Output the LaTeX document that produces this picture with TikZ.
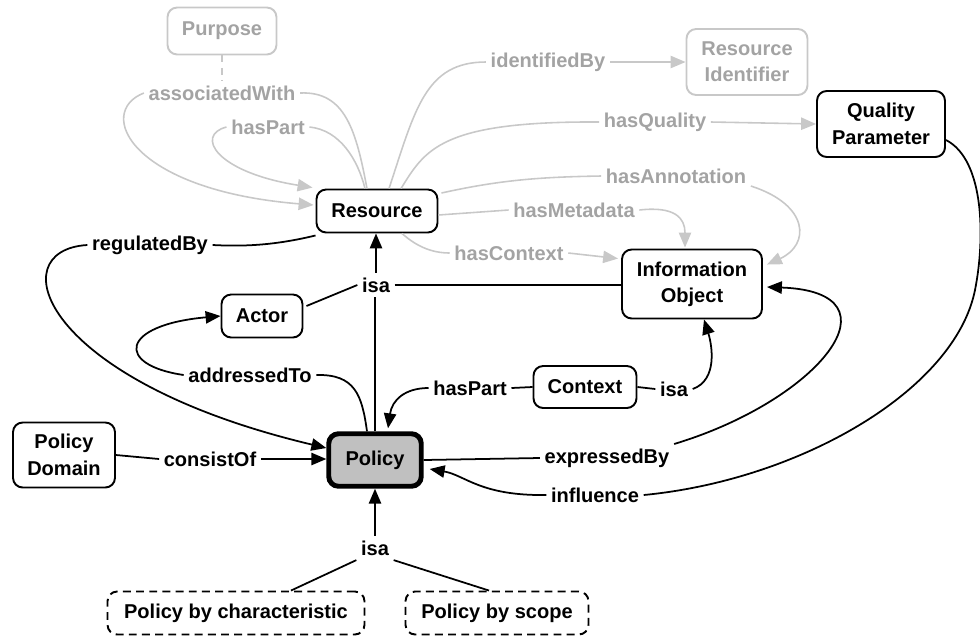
\documentclass[tikz,border=0pt]{standalone}
\usepackage{fontspec}
\setmainfont{Liberation Sans}
\usetikzlibrary{arrows.meta,calc}

\definecolor{fadetext}{HTML}{A3A3A3}
\definecolor{fadeline}{HTML}{C8C8C8}
\definecolor{policyfill}{HTML}{C0C0C0}

\begin{document}
\begin{tikzpicture}[x=0.02cm, y=-0.02cm,
    every node/.style={font=\fontsize{11.4}{15}\selectfont\bfseries},
    concept/.style={draw, rounded corners=5.5pt, line width=1.1pt, align=center, inner sep=0pt},
    faded/.style={concept, draw=fadeline, text=fadetext},
    policybox/.style={concept, line width=2.8pt, fill=policyfill},
    kindbox/.style={concept, dash pattern=on 4.5pt off 3pt},
    relname/.style={inner sep=2.5pt},
    faderel/.style={relname, text=fadetext},
    rellink/.style={line width=1pt},
    relarrow/.style={rellink, -{Triangle[length=8.5pt, width=7pt]}},
    fadelink/.style={line width=0.9pt, draw=fadeline},
    fadearrow/.style={fadelink, -{Triangle[length=8.5pt, width=7pt]}}
]
    \useasboundingbox (0,0) rectangle (980,637);

    % Concepts
    \node[faded, minimum width=2.18cm, minimum height=0.94cm] (purpose) at (222,31) {Purpose};
    \node[faded, minimum width=2.42cm, minimum height=1.32cm] (resid) at (747,62) {Resource\\Identifier};
    \node[concept, minimum width=2.56cm, minimum height=1.32cm] (quality) at (881,124) {Quality\\Parameter};
    \node[concept, minimum width=2.42cm, minimum height=0.86cm] (resource) at (377,211) {Resource};
    \node[concept, minimum width=2.8cm, minimum height=1.38cm] (infoobj) at (692,284) {Information\\Object};
    \node[concept, minimum width=1.62cm, minimum height=0.86cm] (actor) at (262,316) {Actor};
    \node[concept, minimum width=2.06cm, minimum height=0.84cm] (context) at (585,387) {Context};
    \node[concept, minimum width=2.04cm, minimum height=1.3cm] (pdomain) at (64,455) {Policy\\Domain};
    \node[policybox, minimum width=1.85cm, minimum height=1.05cm] (policy) at (375,460) {Policy};
    \node[kindbox, minimum width=5.14cm, minimum height=0.86cm] (pchar) at (236,613) {Policy by characteristic};
    \node[kindbox, minimum width=3.66cm, minimum height=0.86cm] (pscope) at (497,613) {Policy by scope};

    % Relation names
    \node[faderel] (lAssoc) at (222,93) {associatedWith};
    \node[faderel] (lPartR) at (268,127) {hasPart};
    \node[faderel] (lIdent) at (548,62) {identifiedBy};
    \node[faderel] (lQual) at (655,122) {hasQuality};
    \node[faderel] (lAnnot) at (676,176) {hasAnnotation};
    \node[faderel] (lMeta) at (574,210) {hasMetadata};
    \node[faderel] (lCtx) at (509,253) {hasContext};
    \node[relname] (lRegul) at (150,245) {regulatedBy};
    \node[relname] (lIsaTop) at (376,285) {isa};
    \node[relname] (lAddr) at (250,375) {addressedTo};
    \node[relname] (lPart) at (470,388) {hasPart};
    \node[relname] (lIsaCtx) at (674,389) {isa};
    \node[relname] (lConsist) at (210,459) {consistOf};
    \node[relname] (lExpr) at (607,458) {expressedBy};
    \node[relname] (lInfl) at (595,495) {influence};
    \node[relname] (lIsaBot) at (375,548) {isa};

    % Resource relations (faded)
    \draw[fadelink, dash pattern=on 4pt off 3pt] (purpose.south) -- (lAssoc.north);
    \draw[fadelink] ($(resource.north)+(-10,0)$) .. controls (356,130) and (345,91) .. (lAssoc.east);
    \draw[fadearrow] (lAssoc.west) .. controls (95,112) and (130,190) .. ($(resource.west)+(-2,-6)$);
    \draw[fadelink] ($(resource.north)+(-12,0)$) .. controls (358,160) and (340,130) .. (lPartR.east);
    \draw[fadearrow] (lPartR.west) .. controls (195,135) and (215,172) .. ($(resource.north west)+(-3,-1)$);
    \draw[fadelink] ($(resource.north)+(12,0)$) .. controls (415,110) and (425,62) .. (lIdent.west);
    \draw[fadearrow] (lIdent.east) -- (resid.west);
    \draw[fadelink] ($(resource.north)+(24,0)$) .. controls (425,150) and (440,121) .. (lQual.west);
    \draw[fadearrow] (lQual.east) -- (quality.west);
    \draw[fadelink] ($(resource.east)+(3,-18)$) .. controls (500,180) and (540,177) .. (lAnnot.west);
    \draw[fadearrow] ($(lAnnot.east)+(0,10)$) .. controls (810,205) and (810,245) .. ($(infoobj.north east)+(4,16)$);
    \draw[fadelink] ($(resource.east)+(0,4)$) -- (lMeta.west);
    \draw[fadearrow] (lMeta.east) .. controls (675,206) and (685,218) .. ($(infoobj.north)+(-7,-1)$);
    \draw[fadelink] ($(resource.south)+(25,0)$) .. controls (415,245) and (430,253) .. (lCtx.west);
    \draw[fadearrow] (lCtx.east) -- ($(infoobj.north west)+(-3,10)$);

    % Policy relations
    \draw[rellink] ($(resource.south west)+(0,2)$) .. controls (280,244) and (250,247) .. (lRegul.east);
    \draw[relarrow] (lRegul.west) .. controls (0,250) and (40,380) .. ($(policy.west)+(0,-12)$);
    \draw[rellink] (policy.north) -- (policy.north |- lIsaTop.south);
    \draw[relarrow] (lIsaTop.north) -- (lIsaTop.north |- resource.south);
    \draw[rellink] (lIsaTop.west) -- ($(actor.east)+(3,-10)$);
    \draw[rellink] (lIsaTop.east) -- (lIsaTop.east -| infoobj.west);
    \draw[rellink] ($(policy.north)+(-8,0)$) .. controls (362,395) and (355,374) .. (lAddr.east);
    \draw[relarrow] (lAddr.west) .. controls (115,365) and (120,325) .. (actor.west);
    \draw[rellink] (context.west) -- (lPart.east);
    \draw[relarrow] (lPart.west) .. controls (405,388) and (392,400) .. ($(policy.north)+(13,-3)$);
    \draw[rellink] (context.east) -- (lIsaCtx.west);
    \draw[relarrow] (lIsaCtx.east) .. controls (718,380) and (712,345) .. ($(infoobj.south)+(12,0)$);
    \draw[rellink] (pdomain.east) -- (lConsist.west);
    \draw[relarrow] (lConsist.east) -- (lConsist.east -| policy.west);
    \draw[rellink] (policy.east) -- (lExpr.west);
    \draw[relarrow] ($(lExpr.east)+(0,-14)$) .. controls (820,400) and (905,292) .. ($(infoobj.east)+(4,3)$);
    \draw[rellink] ($(quality.east)+(0,16)$) .. controls (985,160) and (985,240) .. (975,290)
        .. controls (955,390) and (800,480) .. (lInfl.east);
    \draw[relarrow] (lInfl.west) .. controls (480,496) and (465,475) .. ($(policy.east)+(6,9)$);
    \draw[relarrow] (lIsaBot.north) -- (policy.south);
    \draw[rellink] (lIsaBot.south west) -- ($(pchar.north)+(55,0)$);
    \draw[rellink] (lIsaBot.south east) -- ($(pscope.north)+(-8,0)$);
\end{tikzpicture}
\end{document}
